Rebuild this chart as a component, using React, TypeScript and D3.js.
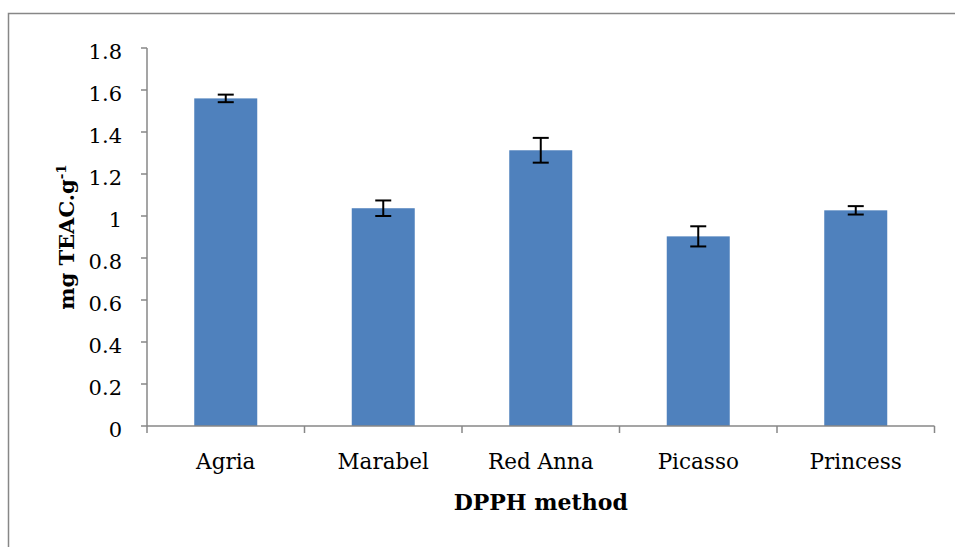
import React from "react";
import * as d3 from "d3";

const categories = ["Agria", "Marabel", "Red Anna", "Picasso", "Princess"];
const values = [1.56, 1.037, 1.313, 0.903, 1.027];
const errors = [0.018, 0.037, 0.059, 0.048, 0.02];
const yTicks = [0, 0.2, 0.4, 0.6, 0.8, 1, 1.2, 1.4, 1.6, 1.8];

const W = 955;
const H = 547;
const left = 147;
const right = 934.5;
const top = 48;
const bottom = 426;
const axisColor = "#878787";
const font = "'DejaVu Serif', serif";

export default function App() {
  const x = d3.scaleBand<string>().domain(categories).range([left, right]).paddingInner(0.6).paddingOuter(0.3);
  const xb = d3.scaleBand<string>().domain(categories).range([left, right]).padding(0);
  const y = d3.scaleLinear().domain([0, 1.8]).range([bottom, top]);
  const boundaries = categories.map((c) => xb(c)!).concat([right]);

  return (
    <svg width={W} height={H} style={{ position: "absolute", left: 0, top: 0, background: "#fff" }}>
      <rect x={8.5} y={13.5} width={W + 20} height={H + 20} fill="#fff" stroke={axisColor} strokeWidth={1.5} />
      {categories.map((c, i) => (
        <rect key={c} x={x(c)} y={y(values[i])} width={x.bandwidth()} height={y(0) - y(values[i])} fill="#4F81BD" />
      ))}
      {categories.map((c, i) => {
        const cx = x(c)! + x.bandwidth() / 2;
        const y1 = y(values[i] + errors[i]);
        const y2 = y(values[i] - errors[i]);
        return (
          <g key={"e" + c} stroke="#000" strokeWidth={2}>
            <line x1={cx} x2={cx} y1={y1} y2={y2} />
            <line x1={cx - 8} x2={cx + 8} y1={y1} y2={y1} />
            <line x1={cx - 8} x2={cx + 8} y1={y2} y2={y2} />
          </g>
        );
      })}
      <g stroke={axisColor} strokeWidth={1.5}>
        <line x1={left} x2={left} y1={top} y2={bottom} />
        <line x1={left} x2={right} y1={bottom} y2={bottom} />
        {yTicks.map((t) => (
          <line key={"yt" + t} x1={left - 6} x2={left} y1={y(t)} y2={y(t)} />
        ))}
        {boundaries.map((b, i) => (
          <line key={"xt" + i} x1={b} x2={b} y1={bottom} y2={bottom + 7} />
        ))}
      </g>
      {yTicks.map((t) => (
        <text key={"yl" + t} x={122} y={y(t) + 11} textAnchor="end" fontFamily={font} fontSize={21} fill="#000">
          {d3.format("")(t)}
        </text>
      ))}
      {categories.map((c) => (
        <text key={"xl" + c} x={x(c)! + x.bandwidth() / 2} y={469} textAnchor="middle" fontFamily={font} fontSize={21.5} fill="#000">
          {c}
        </text>
      ))}
      <text x={(left + right) / 2} y={510} textAnchor="middle" fontFamily={font} fontSize={22} fontWeight="bold" fill="#000">
        DPPH method
      </text>
      <text transform={`translate(74,${(top + bottom) / 2}) rotate(-90)`} textAnchor="middle" fontFamily={font} fontSize={21} fontWeight="bold" fill="#000">
        mg TEAC.g<tspan dy={-8} fontSize={13.5}>-1</tspan>
      </text>
    </svg>
  );
}
